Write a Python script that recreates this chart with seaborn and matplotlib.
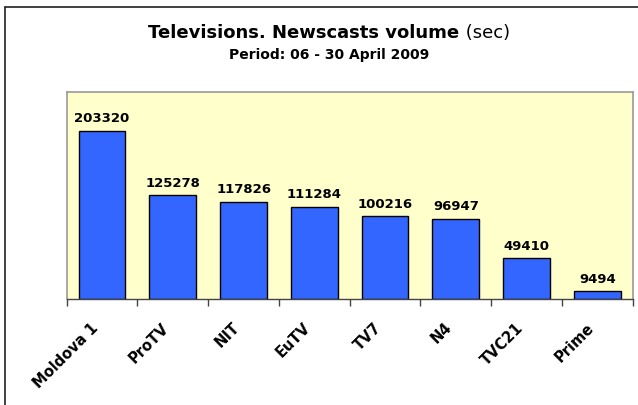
import numpy as np
import pandas as pd
import seaborn as sns
import matplotlib
matplotlib.use("Agg")
import matplotlib.pyplot as plt
from matplotlib.lines import Line2D
from matplotlib.transforms import ScaledTranslation

# data
channels = ["Moldova 1", "ProTV", "NIT", "EuTV", "TV7", "N4", "TVC21", "Prime"]
seconds = [203320, 125278, 117826, 111284, 100216, 96947, 49410, 9494]

title_bold = "Televisions. Newscasts volume"
title_unit = " (sec)"
subtitle = "Period: 06 - 30 April 2009"

df = pd.DataFrame({"channel": channels, "sec": seconds})

sns.set_theme(style="white")
plt.rcParams["font.family"] = ["DejaVu Sans"]
plt.rcParams["text.color"] = "black"
plt.rcParams["xtick.color"] = "black"

W, H = 638, 405
fig = plt.figure(figsize=(W / 100, H / 100), dpi=100)
fig.patch.set_facecolor("white")

# plot area in pixels: x 66.7..632.7, y 92..299
ax = fig.add_axes([66.7 / W, 1 - 299 / H, (632.7 - 66.7) / W, (299 - 92) / H])
ax.set_facecolor("#FFFFCC")

sns.barplot(data=df, x="channel", y="sec", color="#3366FF", saturation=1,
            width=0.66, edgecolor="black", linewidth=1.0, ax=ax)

ax.set_ylim(0, 250500)
ax.set_xlim(-0.5, len(channels) - 0.5)
ax.set_xlabel("")
ax.set_ylabel("")
ax.set_yticks([])

for side in ["left", "right", "top"]:
    ax.spines[side].set_color("#9a9a9a")
    ax.spines[side].set_linewidth(1.2)
ax.spines["bottom"].set_color("#444444")
ax.spines["bottom"].set_linewidth(1.0)

# tick marks at category boundaries, labels at the centers
ax.set_xticks(np.arange(-0.5, len(channels)), minor=True)
ax.tick_params(axis="x", which="minor", length=5, width=1, color="#444444",
               direction="out", bottom=True)
ax.tick_params(axis="x", which="major", length=0, pad=19)
ax.set_xticks(range(len(channels)))
ax.set_xticklabels(channels, rotation=45, ha="right", va="center",
                   rotation_mode="anchor", fontsize=10.5, fontweight="bold",
                   color="black")
shift = ScaledTranslation(-0.06, 0, fig.dpi_scale_trans)
for lab in ax.get_xticklabels():
    lab.set_transform(lab.get_transform() + shift)

ax.bar_label(ax.containers[0], labels=[str(v) for v in seconds], padding=4,
             fontsize=9.5, fontweight="bold", color="black")

# title: bold part plus normal unit, centered together
fig.canvas.draw()
r = fig.canvas.get_renderer()
t1 = fig.text(0, 1 - 38 / H, title_bold, fontsize=13, fontweight="bold",
              ha="left", va="baseline", color="black")
t2 = fig.text(0, 1 - 38 / H, title_unit, fontsize=13, ha="left", va="baseline",
              color="black")
w1 = t1.get_window_extent(r).width
w2 = t2.get_window_extent(r).width
cx = 329
x0 = cx - (w1 + w2) / 2
t1.set_x(x0 / W)
t2.set_x((x0 + w1) / W)
fig.text(cx / W, 1 - 59 / H, subtitle, fontsize=10, fontweight="bold",
         ha="center", va="baseline", color="black")

# chart frame (only left and top edges visible in the crop)
fig.add_artist(Line2D([5 / W, 5 / W], [0, 1 - 7 / H], transform=fig.transFigure,
                      color="#222222", lw=1.2))
fig.add_artist(Line2D([5 / W, 1], [1 - 7 / H, 1 - 7 / H], transform=fig.transFigure,
                      color="#222222", lw=1.2))

fig.savefig("out.png", dpi=100)
